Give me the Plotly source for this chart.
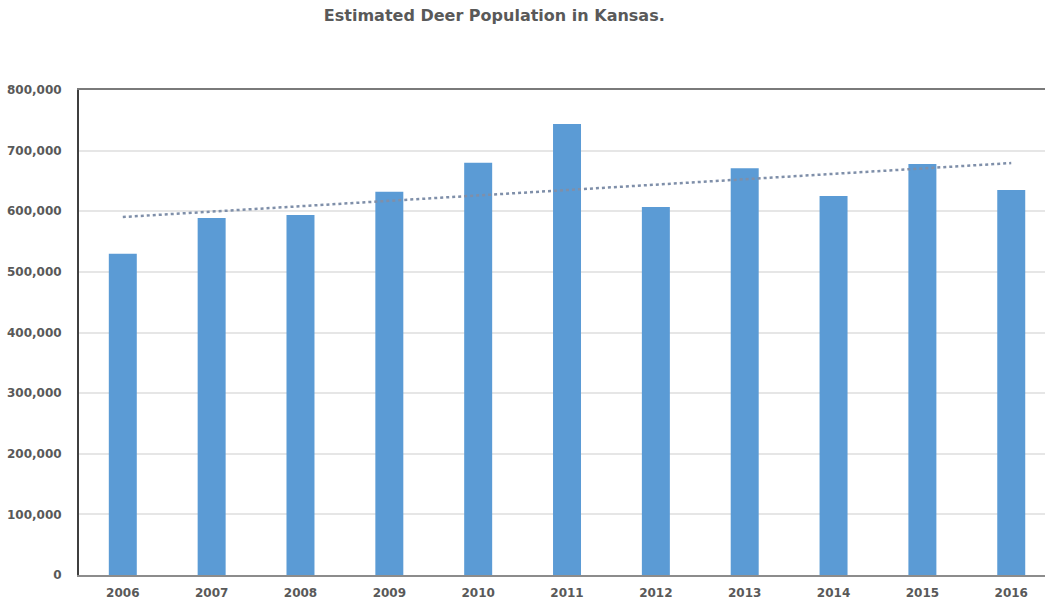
import numpy as np
import plotly.graph_objects as go

# Estimated deer population, Kansas
years = ["2006", "2007", "2008", "2009", "2010", "2011", "2012", "2013", "2014", "2015", "2016"]
population = [530000, 589000, 594000, 632000, 680000, 744000, 607000, 671000, 625000, 678000, 635000]

y_ticks = [0, 100000, 200000, 300000, 400000, 500000, 600000, 700000, 800000]

idx = np.arange(len(years))
slope, intercept = np.polyfit(idx, population, 1)
trend = slope * idx + intercept

text_color = "#595959"
font_family = "DejaVu Sans, Verdana, sans-serif"

fig = go.Figure()
fig.add_trace(go.Bar(
    x=idx, y=population, width=0.315,
    marker=dict(color="#5B9BD5", line=dict(width=0)),
    showlegend=False, hoverinfo="x+y",
))
fig.add_trace(go.Scatter(
    x=idx, y=trend, mode="lines",
    line=dict(color="#7F8FA9", width=2.5, dash="dot"),
    showlegend=False,
))

fig.update_layout(
    width=1045, height=602,
    margin=dict(l=79, r=0, t=90, b=27),
    paper_bgcolor="white", plot_bgcolor="white",
    font=dict(family=font_family, color=text_color),
    title=dict(
        text="Estimated Deer Population in Kansas.",
        x=0.473, xanchor="center", y=0.975, yanchor="middle",
        font=dict(size=16, color=text_color, family=font_family, weight="bold"),
    ),
    xaxis=dict(
        range=[-0.493, 10.38],
        tickmode="array", tickvals=idx, ticktext=years,
        showgrid=False, zeroline=False,
        showline=True, linecolor="#8C8C8C", linewidth=1.5, mirror=False,
        ticks="", ticklabelstandoff=6,
        tickfont=dict(size=12, color=text_color, weight="bold"),
    ),
    xaxis2=dict(overlaying="x", side="top", showline=True, linecolor="#7A7A7A",
                linewidth=2, showticklabels=False, showgrid=False, zeroline=False,
                range=[-0.493, 10.38]),
    yaxis=dict(
        range=[0, 800000],
        tickmode="array", tickvals=y_ticks,
        tickformat=",d",
        showgrid=True, gridcolor="#E6E6E6", gridwidth=1.5,
        zeroline=False,
        showline=True, linecolor="#3F3F3F", linewidth=2,
        ticks="", ticklabelstandoff=13,
        tickfont=dict(size=12, color=text_color, weight="bold"),
    ),
)
# invisible trace to anchor the top frame axis
fig.add_trace(go.Scatter(x=[0], y=[0], xaxis="x2", mode="markers",
                         marker=dict(opacity=0), showlegend=False, hoverinfo="skip"))

fig.write_html("out.html")
